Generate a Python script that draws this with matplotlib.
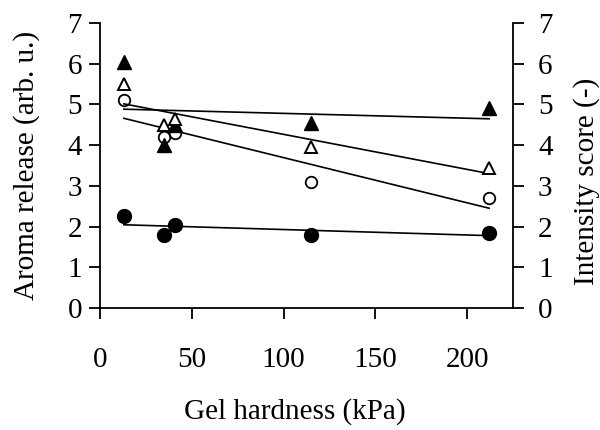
import numpy as np
import matplotlib
matplotlib.use("Agg")
import matplotlib.pyplot as plt

plt.rcParams['font.family'] = ['Liberation Serif', 'DejaVu Serif']

hardness = [13, 35, 41, 115, 212]
aroma_filled_circle = [2.25, 1.8, 2.05, 1.8, 1.85]
aroma_open_circle = [5.1, 4.2, 4.3, 3.1, 2.7]
score_filled_triangle = [6.05, 4.0, 4.5, 4.55, 4.9]
score_open_triangle = [5.5, 4.5, 4.65, 3.95, 3.45]

xticks = [0, 50, 100, 150, 200]
yticks = [0, 1, 2, 3, 4, 5, 6, 7]

FS = 21

fig = plt.figure(figsize=(6, 4.3), dpi=100)
ax = fig.add_axes([100/600, 1-308/430, 413/600, 285/430])
ax2 = ax.twinx()

x = np.array(hardness, dtype=float)

def fit_line(axis, y):
    k, b = np.polyfit(x, np.array(y, dtype=float), 1)
    xs = np.array([x.min(), x.max()])
    axis.plot(xs, k*xs + b, color='black', lw=1.2, zorder=2)

for y in [aroma_filled_circle, aroma_open_circle]:
    fit_line(ax, y)
for y in [score_filled_triangle, score_open_triangle]:
    fit_line(ax2, y)

ax.plot(hardness, aroma_filled_circle, 'o', ms=10, mfc='black', mec='black', zorder=3, clip_on=False)
ax.plot(hardness, aroma_open_circle, 'o', ms=8.3, mfc='white', mec='black', mew=1.3, zorder=3, clip_on=False)
ax2.plot(hardness, score_filled_triangle, '^', ms=10, mfc='black', mec='black', zorder=3, clip_on=False)
ax2.plot(hardness, score_open_triangle, '^', ms=8.5, mfc='white', mec='black', mew=1.4, zorder=3, clip_on=False)

for a in (ax, ax2):
    a.set_xlim(0, 225)
    a.set_ylim(0, 7)
    a.set_yticks(yticks)
    a.spines['top'].set_visible(False)
    for s in a.spines.values():
        s.set_linewidth(1.3)

ax.spines['right'].set_visible(False)
ax2.spines['left'].set_visible(False)
ax2.spines['bottom'].set_visible(False)

ax.set_xticks(xticks)
ax.tick_params(axis='x', direction='out', length=8, width=1.3, labelsize=FS, pad=20)
ax.tick_params(axis='y', direction='out', length=8, width=1.3, labelsize=FS, pad=5)
ax2.tick_params(axis='y', direction='out', length=8, width=1.3, labelsize=FS, pad=10)

ax.set_xlabel('Gel hardness (kPa)', fontsize=FS)
ax.set_ylabel('Aroma release (arb. u.)', fontsize=FS)
ax2.set_ylabel('Intensity score (-)', fontsize=FS)
ax.xaxis.set_label_coords(0.472, -0.315)
ax.yaxis.set_label_coords(-0.145, 0.5)
ax2.yaxis.set_label_coords(1.145, 0.445)

fig.savefig('out.png', dpi=100)
